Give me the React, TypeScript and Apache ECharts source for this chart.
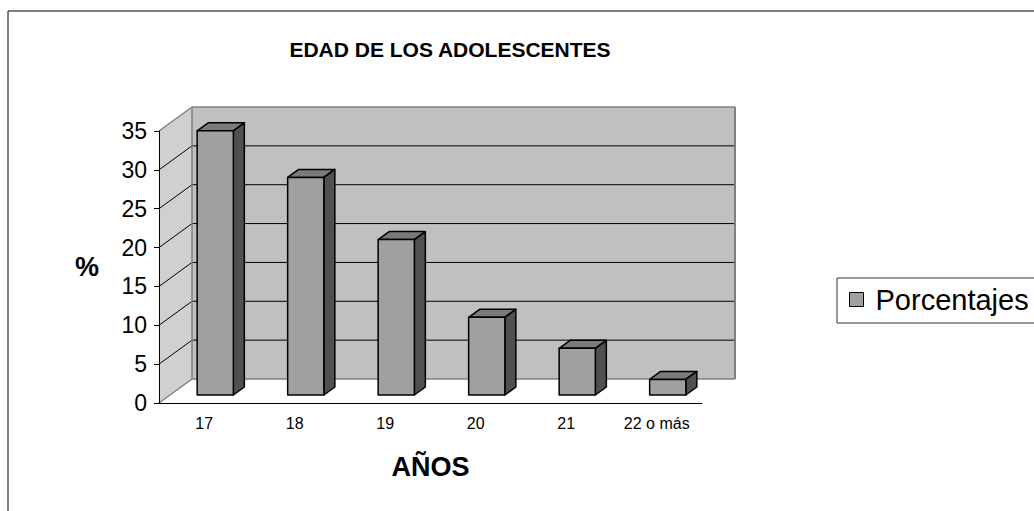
import React, { useEffect, useRef } from "react";
import * as echarts from "echarts";

const titleText = "EDAD DE LOS ADOLESCENTES";
const categories = ["17", "18", "19", "20", "21", "22 o más"];
const values = [34, 28, 20, 10, 6, 2];
const seriesName = "Porcentajes";
const yMin = 0;
const yMax = 35;
const yInterval = 5;
const yTicks = [0, 5, 10, 15, 20, 25, 30, 35];
const xName = "AÑOS";
const yName = "%";

const DX = 33;
const DY = -24;
const FONT = "'Liberation Sans', Arial, sans-serif";

export default function App() {
  const ref = useRef<HTMLDivElement>(null);
  useEffect(() => {
    document.body.style.margin = "0";
    const chart = echarts.init(ref.current!, null, { renderer: "svg" });
    const option: any = {
      animation: false,
      backgroundColor: "#ffffff",
      textStyle: { fontFamily: FONT },
      title: {
        text: titleText,
        left: 445,
        top: 34,
        textAlign: "center",
        textStyle: { fontSize: 21, fontWeight: "bold", color: "#000", fontFamily: FONT },
      },
      graphic: [
        {
          type: "rect",
          z: -10,
          shape: { x: 8, y: 11, width: 1100, height: 600 },
          style: { fill: "none", stroke: "#000", lineWidth: 1 },
          silent: true,
        },
        {
          type: "rect",
          z: -10,
          shape: { x: 837, y: 278, width: 300, height: 45 },
          style: { fill: "none", stroke: "#333", lineWidth: 1 },
          silent: true,
        },
      ],
      legend: {
        data: [
          {
            name: seriesName,
            icon: "rect",
            itemStyle: { color: "#a0a0a0", borderColor: "#000", borderWidth: 1 },
          },
        ],
        left: 837,
        top: 280,
        orient: "vertical",
        itemWidth: 14,
        itemHeight: 14,
        padding: [5, 0, 5, 12],
        borderWidth: 0,
        textStyle: { fontSize: 29, color: "#000", fontFamily: FONT, padding: [0, 0, 0, 7] },
      },
      grid: { left: 159, top: 131, width: 543, height: 272, containLabel: false },
      xAxis: {
        type: "category",
        data: categories,
        z: 5,
        name: xName,
        nameLocation: "middle",
        nameGap: 50,
        nameTextStyle: { fontSize: 27, fontWeight: "bold", color: "#000", fontFamily: FONT },
        axisLine: { lineStyle: { color: "#000", width: 1 } },
        axisTick: { length: 6, lineStyle: { color: "#000" } },
        axisLabel: { fontSize: 16, color: "#000", margin: 12, fontFamily: FONT },
        splitLine: { show: false },
      },
      yAxis: {
        type: "value",
        min: yMin,
        max: yMax,
        interval: yInterval,
        z: 5,
        name: yName,
        nameLocation: "middle",
        nameRotate: 0,
        nameGap: 60,
        nameTextStyle: { fontSize: 27, fontWeight: "bold", color: "#000", fontFamily: FONT },
        axisLine: { show: true, lineStyle: { color: "#000", width: 1 } },
        axisTick: { show: true, length: 5, lineStyle: { color: "#000" } },
        axisLabel: { fontSize: 23, color: "#000", margin: 12, fontFamily: FONT },
        splitLine: { show: false },
      },
      series: [
        {
          type: "custom",
          name: "walls",
          silent: true,
          z: 1,
          data: [[0, 0]],
          encode: { x: 0, y: 1 },
          renderItem: (params: any, api: any) => {
            const cs = params.coordSys;
            const left = cs.x;
            const right = cs.x + cs.width;
            const top = cs.y;
            const bottom = cs.y + cs.height;
            const children: any[] = [];
            children.push({
              type: "polygon",
              shape: { points: [[left, top], [left + DX, top + DY], [left + DX, bottom + DY], [left, bottom]] },
              style: { fill: "#d0d0d0", stroke: "none" },
            });
            children.push({
              type: "rect",
              shape: { x: left + DX, y: top + DY, width: right - left, height: bottom - top },
              style: { fill: "#c0c0c0", stroke: "none" },
            });
            yTicks.forEach((t) => {
              const y = api.coord([0, t])[1];
              const edge = t === yMin || t === yMax;
              const color = edge ? "#808080" : "#000";
              const lw = edge ? 1.5 : 1;
              children.push({
                type: "line",
                shape: { x1: left + DX, y1: y + DY, x2: right + DX, y2: y + DY },
                style: { stroke: color, lineWidth: lw },
              });
              children.push({
                type: "line",
                shape: { x1: left, y1: y, x2: left + DX, y2: y + DY },
                style: { stroke: color, lineWidth: lw },
              });
            });
            children.push({
              type: "line",
              shape: { x1: left + DX, y1: top + DY, x2: left + DX, y2: bottom + DY },
              style: { stroke: "#808080", lineWidth: 1.5 },
            });
            children.push({
              type: "line",
              shape: { x1: right + DX, y1: top + DY, x2: right + DX, y2: bottom + DY },
              style: { stroke: "#808080", lineWidth: 2 },
            });
            return { type: "group", children };
          },
        },
        {
          type: "custom",
          name: seriesName,
          z: 3,
          itemStyle: { color: "#a0a0a0", borderColor: "#000", borderWidth: 1 },
          data: values.map((v, i) => [i, v]),
          encode: { x: 0, y: 1 },
          renderItem: (params: any, api: any) => {
            const idx = api.value(0);
            const v = api.value(1);
            const base = api.coord([idx, 0]);
            const topP = api.coord([idx, v]);
            const band = api.size([1, 0])[0];
            const w = band * 0.4;
            const ox = DX / 3;
            const oy = DY / 3;
            const x0 = base[0] - w / 2 + ox;
            const x1 = x0 + w;
            const yb = base[1] + oy;
            const yt = topP[1] + oy;
            const st = { stroke: "#000", lineWidth: 1.5, lineJoin: "round" };
            return {
              type: "group",
              children: [
                {
                  type: "polygon",
                  shape: { points: [[x0, yt], [x1, yt], [x1 + ox, yt + oy], [x0 + ox, yt + oy]] },
                  style: { fill: "#7a7a7a", ...st },
                },
                {
                  type: "polygon",
                  shape: { points: [[x1, yt], [x1 + ox, yt + oy], [x1 + ox, yb + oy], [x1, yb]] },
                  style: { fill: "#505050", ...st },
                },
                {
                  type: "rect",
                  shape: { x: x0, y: yt, width: w, height: yb - yt },
                  style: { fill: "#a0a0a0", ...st },
                },
              ],
            };
          },
        },
      ],
    };
    chart.setOption(option);
    return () => chart.dispose();
  }, []);
  return <div ref={ref} style={{ width: 1034, height: 511, overflow: "hidden" }} />;
}
